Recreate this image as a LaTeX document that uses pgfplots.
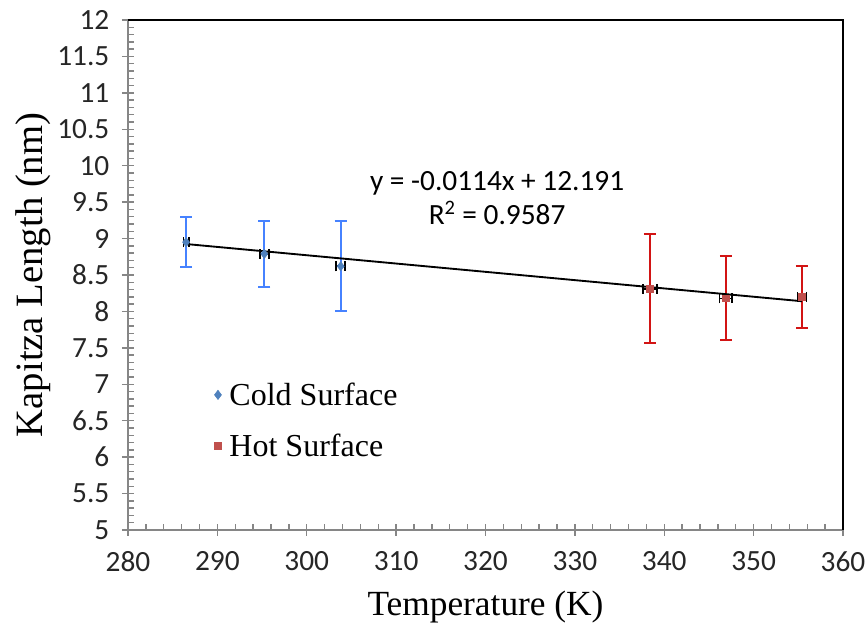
\documentclass[border=0pt]{standalone}
\usepackage{pgfplots}
\pgfplotsset{compat=1.18}
\usepackage{fontspec}
\setmainfont{Liberation Serif}
\newfontfamily\calfont{Carlito}
\definecolor{coldm}{RGB}{79,129,189}
\definecolor{colde}{RGB}{70,130,255}
\definecolor{hotm}{RGB}{192,80,77}
\definecolor{hote}{RGB}{210,20,20}
\definecolor{axgray}{RGB}{134,134,134}
\begin{document}
\begin{tikzpicture}[x=0.75pt,y=0.75pt]
\useasboundingbox (-128,-100) rectangle (739,530);
\begin{axis}[
  at={(0,0)}, anchor=south west,
  scale only axis, width=536.25pt, height=382.5pt,
  xmin=280, xmax=360, ymin=5, ymax=12,
  xtick={280,290,...,360}, ytick={5,5.5,...,12},
  minor x tick num=4, minor y tick num=4,
  axis x line*=bottom, axis y line*=left,
  axis line style={axgray, line width=1.4pt},
  every tick/.style={axgray, line width=1.1pt},
  tick align=center,
  major tick length=9pt,
  minor tick length=4.5pt,
  every minor x tick/.append style={yshift=2.25pt},
  every minor y tick/.append style={xshift=2.25pt},
  /pgf/number format/assume math mode=true,
  /pgf/number format/.cd, fixed, precision=1, /pgfplots/.cd,
  yticklabel style={font=\calfont\fontsize{22}{22}\selectfont, xshift=-6pt, text=black!85},
  xticklabel style={font=\calfont\fontsize{22}{22}\selectfont, yshift=-8pt, text=black!85},
  xlabel={Temperature (K)},
  ylabel={Kapitza Length (nm)},
  xlabel style={font=\fontsize{26.5}{26.5}\selectfont, yshift=-8pt},
  ylabel style={font=\fontsize{29}{29}\selectfont, yshift=-2pt},
  clip=false,
  legend style={draw=none, fill=none, at={(0.115,0.30)}, anchor=north west,
    font=\fontsize{24}{24}\selectfont, row sep=16pt,
    /tikz/every even column/.append style={column sep=4pt},
    /tikz/every odd column/.append style={column sep=4pt}},
  legend cell align=left,
]
\draw[black, line width=1.4pt] (rel axis cs:0,1) -- (rel axis cs:1,1) -- (rel axis cs:1,0);
% x error bars (black)
\addplot[draw=none, mark=none, forget plot, error bars/.cd, x dir=both, x explicit,
  error bar style={black, line width=1.2pt}, error mark options={rotate=90, mark size=3.75pt, black, line width=1.2pt}]
  coordinates {(286.5,8.95) +- (0.3,0) (295.25,8.79) +- (0.5,0) (303.8,8.62) +- (0.5,0)
   (338.4,8.31) +- (0.8,0) (346.9,8.18) +- (0.7,0) (355.4,8.20) +- (0.5,0)};
% cold
\addplot[only marks, mark=diamond*, mark size=3.5pt, color=coldm,
  legend image code/.code={\pgfuseplotmark{diamond*}},
  error bars/.cd, y dir=both, y explicit,
  error bar style={colde, line width=1.5pt}, error mark options={rotate=90, mark size=4.5pt, colde, line width=1.5pt}]
  coordinates {(286.5,8.95) +- (0,0.345) (295.25,8.79) +- (0,0.45) (303.8,8.62) +- (0,0.62)};
\addlegendentry{Cold Surface}
% hot
\addplot[only marks, mark=square*, mark size=2.5pt, color=hotm,
  legend image code/.code={\pgfuseplotmark{square*}},
  error bars/.cd, y dir=both, y explicit,
  error bar style={hote, line width=1.5pt}, error mark options={rotate=90, mark size=4.5pt, hote, line width=1.5pt}]
  coordinates {(338.4,8.31) +- (0,0.75) (346.9,8.18) +- (0,0.575) (355.4,8.20) +- (0,0.425)};
\addlegendentry{Hot Surface}
% trend line
\addplot[black, line width=1.4pt, forget plot] coordinates {(286.5,8.925) (355.4,8.140)};
\node[font=\calfont\fontsize{22}{22}\selectfont, align=center, inner sep=0pt] at (axis cs:321.3,9.56) {y = -0.0114x + 12.191\\[3.5pt]R\textsuperscript{2} = 0.9587};
\end{axis}
\end{tikzpicture}
\end{document}
